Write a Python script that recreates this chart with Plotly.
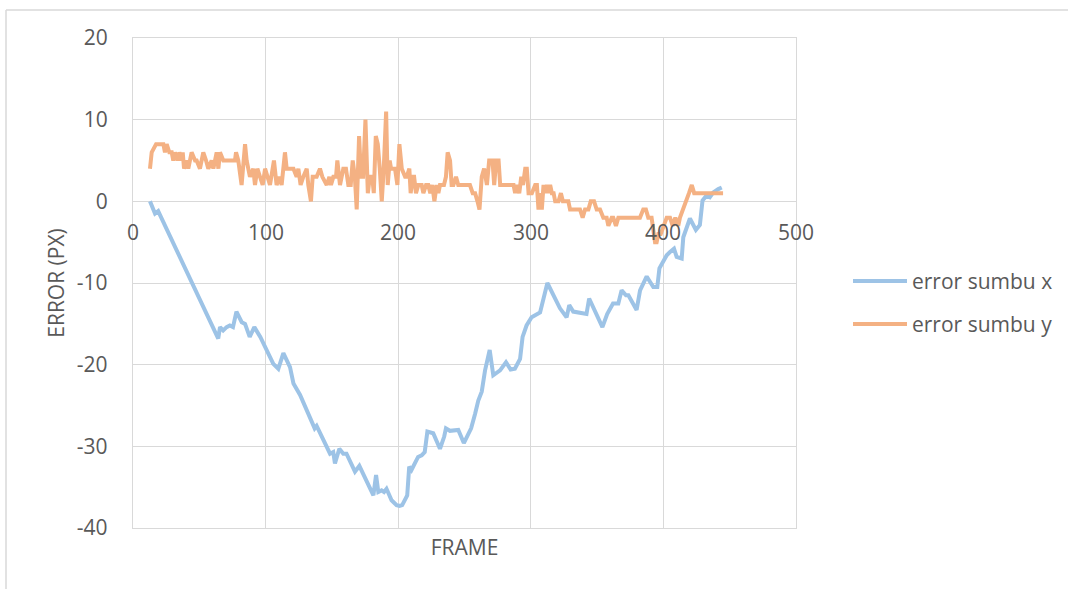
import plotly.graph_objects as go

# ---- data ----
x_frames_sumbu_x = [12.8, 16.6, 19, 64.3, 65.6, 68, 70.6, 73, 75.4, 78, 82, 84.5, 88, 91.5, 96,
                    105.8, 109.6, 113.4, 118.4, 121, 126, 137, 138.5, 148.6, 151, 152.3, 155.6,
                    158.6, 161, 167.4, 170.7, 181.3, 183.3, 185, 187.5, 189.3, 191.2, 195, 198.8,
                    201, 203, 206.8, 208.3, 210, 215, 217.7, 220, 222, 226.4, 231.5, 234.7, 236,
                    239, 245.3, 249.5, 255, 258, 260.4, 263, 265.5, 269, 271.7, 276.8, 281.3,
                    284.8, 288, 291.9, 293.8, 296.8, 300.6, 307, 310, 312.5, 322, 327, 329, 332,
                    342, 344, 354, 357.6, 362, 366, 368.5, 371.8, 373.6, 379.8, 382.4, 387.4,
                    392.4, 395.4, 397, 402.5, 405, 408, 410, 413.8, 415, 420, 424.5, 427.5,
                    429.5, 432.5, 435, 437.6, 441.4, 444]
error_sumbu_x = [0, -1.5, -1.2, -16.8, -15.4, -15.8, -15.4, -15.2, -15.4, -13.5, -14.8, -15,
                 -16.6, -15.4, -16.6, -19.9, -20.5, -18.6, -20.3, -22.3, -23.7, -27.8, -27.5,
                 -30.9, -30.7, -32.1, -30.3, -30.9, -30.9, -33.1, -32.4, -36, -33.5, -35.6,
                 -35.4, -35.6, -35.2, -36.6, -37.2, -37.3, -37.2, -36, -32.5, -32.9, -31.3,
                 -31.1, -30.7, -28.2, -28.4, -30.3, -28.8, -27.8, -28.1, -28, -29.6, -27.8,
                 -26, -24.4, -23.3, -20.7, -18.2, -21.3, -20.7, -19.7, -20.6, -20.5, -19.3,
                 -16.6, -15.2, -14.2, -13.6, -11.5, -10.0, -13.1, -14.2, -12.7, -13.5, -13.8,
                 -11.9, -15.4, -13.8, -12.5, -12.5, -10.9, -11.5, -11.5, -13.3, -10.9, -9.2,
                 -10.5, -10.5, -8.2, -6.6, -6.2, -5.8, -6.8, -7, -4.4, -2.1, -3.5, -2.9, 0.1,
                 0.7, 0.5, 1.1, 1.5, 1.7]

x_frames_sumbu_y = [12.8, 14.1, 17.4, 22.9, 24.1, 25.4, 27.4, 29.2, 30.4, 31.7, 33.7, 35, 36.7,
                    37.5, 38.5, 40.5, 41.7, 44.2, 46.8, 48, 50.5, 51.8, 53, 55.1, 56.8, 59.3,
                    60.6, 63.1, 64.4, 65.6, 68.1, 76.9, 77.7, 79.4, 81.9, 84.5, 85.7, 88.2, 90.7,
                    92, 93.8, 95.8, 97.8, 99.6, 101.6, 103.3, 106.3, 108.3, 110.4, 112.1, 114.6,
                    115.9, 121, 123.4, 124.7, 126.4, 128.4, 131, 132.2, 134.2, 135.5, 138.5,
                    141, 142.8, 146.1, 148.1, 149.3, 151.1, 153.1, 154.1, 156.1, 158.6, 160.6,
                    162.4, 164.2, 165.7, 167.3, 168.7, 170.5, 172, 173.5, 175.3, 177.1, 178.6,
                    180.4, 181.6, 183.1, 184.6, 186.1, 187.6, 189.1, 190.9, 192.1, 193.6, 194.6,
                    197.6, 199.4, 200.9, 202.7, 205.2, 206.4, 208.4, 209.4, 211, 212, 213.4,
                    215.2, 217.7, 219, 221, 222.7, 224.2, 225.7, 227.3, 229, 230.3, 231.5,
                    234.5, 236, 237.3, 239.1, 240.3, 241.6, 243.6, 245.3, 254.1, 256.2, 258,
                    259.8, 261.3, 263, 264.8, 266.9, 268.6, 271.1, 272.4, 273.9, 275.7, 276.9,
                    287, 288.2, 289.5, 291.3, 292.8, 294.1, 295.8, 297, 298.3, 300.8, 303.3,
                    304.6, 305.8, 307.1, 308.3, 309.6, 310.8, 312.1, 313.4, 314.6, 315.9, 317.2,
                    318.4, 320.9, 322.7, 324.2, 328.3, 329.6, 337.1, 339.1, 340.9, 343.4, 345.2,
                    347.7, 349.7, 352.2, 354.7, 357.2, 358.5, 361, 362.2, 364.2, 366, 382.3,
                    384.8, 386.8, 388.6, 391.1, 392.4, 393.7, 394.9, 396.2, 398, 400, 402.5,
                    405, 407, 409, 411.2, 412.5, 415, 417.6, 419.3, 421.4, 423.2, 445]
error_sumbu_y = [4, 6, 7, 7, 6, 7, 6, 6, 5, 6, 5, 6, 5,
                 6, 4, 5, 4, 6, 5, 5, 4, 5, 6, 5, 4, 5,
                 4, 6, 4, 6, 5, 5, 6, 5, 2, 7, 5, 3, 4,
                 2, 4, 3, 2, 4, 3, 2, 5, 2, 3, 2, 6,
                 4, 4, 3, 4, 2, 3, 4, 2, 0, 3, 3,
                 4, 3, 2, 3, 2, 3, 3, 5, 2, 4, 4,
                 2, 2, 5, 3, -1, 8, 3, 3, 10, 1, 3,
                 3, 1, 8, 7, 4, 0, 4, 11, 2, 5, 4,
                 4, 2, 7, 4, 3, 3, 4, 1, 3, 3, 1,
                 2, 2, 1, 2, 2, 1, 2, 0, 2, 1, 2,
                 2, 3, 6, 5, 2, 2, 3, 2, 2, 1, 1,
                 0, -1, 3, 4, 2, 5, 5, 2, 5, 5, 2,
                 2, 1, 2, 1, 3, 2, 4, 4, 1, 1, 2,
                 2, -1, 1, -1, 2, 1, 2, 1, 2, 1, 1,
                 0, 0, 1, 0, 0, -1, -1, -2, -1, -1, 0,
                 0, -1, -1, -2, -2, -3, -2, -2, -3, -2, -2,
                 -1, -1, -2, -2, -4, -5, -5, -4, -4, -3, -2,
                 -2, -3, -2, -3, -2, -1, 0, 1, 2, 1, 1]

x_ticks = [0, 100, 200, 300, 400, 500]
y_ticks = [-40, -30, -20, -10, 0, 10, 20]
y_tick_labels = ["-40", "-30", "-20", "-10", "0", "10", "20"]
series_names = ["error sumbu x", "error sumbu y"]
series_colors = ["#9DC3E6", "#F4B183"]

TEXT = "#595959"
GRID = "#d9d9d9"
FONT = "Open Sans"
FS = 21

fig = go.Figure()
fig.add_trace(go.Scatter(x=x_frames_sumbu_x, y=error_sumbu_x, mode="lines",
                         name=series_names[0], line=dict(color=series_colors[0], width=4),
                         showlegend=False))
fig.add_trace(go.Scatter(x=x_frames_sumbu_y, y=error_sumbu_y, mode="lines",
                         name=series_names[1], line=dict(color=series_colors[1], width=4),
                         showlegend=False))

# x tick labels sit on the zero line (Excel style)
annotations = []
for v in x_ticks:
    annotations.append(dict(x=v, y=0, xref="x", yref="y", text=str(v), showarrow=False,
                            yshift=-31, font=dict(family=FONT, size=FS, color=TEXT)))

# custom legend (long line samples like Excel)
L, R, T, B = 133, 796, 38, 528
def px_x(p):
    return (p - L) / (R - L)
def px_y(p):
    return (B - p) / (B - T)

shapes = []
legend_rows = [281, 324]
for name, col, row in zip(series_names, series_colors, legend_rows):
    shapes.append(dict(type="line", xref="paper", yref="paper",
                       x0=px_x(853), x1=px_x(907), y0=px_y(row), y1=px_y(row),
                       line=dict(color=col, width=4)))
    annotations.append(dict(x=px_x(910), y=px_y(row), xref="paper", yref="paper",
                            text=name, showarrow=False, xanchor="left", yanchor="middle",
                            font=dict(family=FONT, size=FS, color=TEXT)))

# outer chart border (top and left visible)
shapes.append(dict(type="line", xref="paper", yref="paper", x0=px_x(6), x1=px_x(1070),
                   y0=px_y(10), y1=px_y(10), line=dict(color=GRID, width=1.5)))
shapes.append(dict(type="line", xref="paper", yref="paper", x0=px_x(6), x1=px_x(6),
                   y0=px_y(10), y1=px_y(600), line=dict(color=GRID, width=1.5)))

fig.update_layout(
    width=1068, height=589, autosize=False,
    margin=dict(l=L, r=1068 - R, t=T, b=589 - B),
    paper_bgcolor="white", plot_bgcolor="white",
    font=dict(family=FONT, size=FS, color=TEXT),
    showlegend=False,
    shapes=shapes, annotations=annotations,
    xaxis=dict(range=[0, 500], tickvals=x_ticks, showticklabels=False,
               showgrid=True, gridcolor=GRID, gridwidth=1.3, zeroline=False,
               showline=True, mirror=True, linecolor=GRID, linewidth=1.3,
               title=dict(text="FRAME", standoff=12, font=dict(family=FONT, size=FS, color=TEXT))),
    yaxis=dict(range=[-40, 20], tickvals=y_ticks, ticktext=y_tick_labels, ticks="",
               ticklabelstandoff=20,
               showgrid=True, gridcolor=GRID, gridwidth=1.3, zeroline=False,
               showline=True, mirror=True, linecolor=GRID, linewidth=1.3,
               tickfont=dict(family=FONT, size=FS, color=TEXT),
               title=dict(text="ERROR (PX)", standoff=6, font=dict(family=FONT, size=FS, color=TEXT))),
)

fig.write_html("out.html", config={"displayModeBar": False},
               post_script="document.body.style.margin='0';")
